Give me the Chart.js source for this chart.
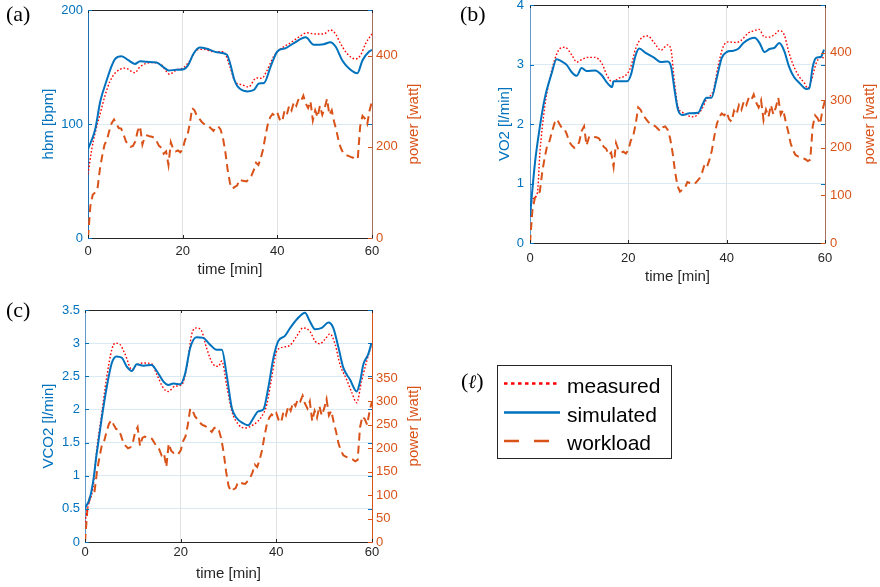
<!DOCTYPE html>
<html>
<head>
<meta charset="utf-8">
<script src="https://cdn.jsdelivr.net/npm/chart.js@4.4.1/dist/chart.umd.min.js"></script>
<style>
html,body{margin:0;padding:0;background:#fff;width:880px;height:587px;overflow:hidden;position:relative;}
canvas.cv{position:absolute;}
#overlay{position:absolute;left:0;top:0;width:880px;height:587px;pointer-events:none;}
</style>
</head>
<body>
<canvas id="cA" class="cv"></canvas>
<canvas id="cB" class="cv"></canvas>
<canvas id="cC" class="cv"></canvas>
<svg id="overlay" width="880" height="587" xmlns="http://www.w3.org/2000/svg">
  <g font-family="'Liberation Serif','Times New Roman',serif" font-size="22" fill="#000">
    <text x="6" y="21">(a)</text>
    <text x="460" y="21">(b)</text>
    <text x="6" y="317">(c)</text>
    <text x="461" y="388">(<tspan font-style="italic" font-family="'DejaVu Serif',serif" font-size="19">ℓ</tspan>)</text>
  </g>
  <rect x="497.5" y="365.5" width="174" height="93" fill="#fff" stroke="#262626" stroke-width="1"/>
  <line x1="504" y1="383.5" x2="560" y2="383.5" stroke="#FF0000" stroke-width="2.5" stroke-dasharray="3.5,3.5"/>
  <line x1="504" y1="412.5" x2="560" y2="412.5" stroke="#0072BD" stroke-width="2.5"/>
  <line x1="504" y1="441" x2="560" y2="441" stroke="#D95319" stroke-width="2.5" stroke-dasharray="15,15"/>
  <g font-family="'Liberation Sans',Arial,sans-serif" font-size="21" fill="#000">
    <text x="567" y="393">measured</text>
    <text x="567" y="421.5">simulated</text>
    <text x="567" y="450">workload</text>
  </g>
</svg>
<script>
// ---------------- data (time in min) ----------------
const timeTicks = [0, 20, 40, 60];

// workload [min, watt] (same in all panels)
const workload = [
 [0,0],[0.5,70],[1,95],[1.5,100],[2,108],[2.5,150],[3,180],[3.5,205],[4,215],[4.5,235],
 [5,252],[5.5,260],[6,250],[6.5,241],[7,240],[7.5,228],[8,212],[8.5,205],[9,200],[9.5,202],
 [10,212],[10.5,235],[11,245],[11.5,205],[12,222],[12.5,225],[13,223],[13.5,222],[14,220],[14.5,212],
 [15,202],[15.5,198],[16,185],[16.5,190],[17,160],[17.5,210],[18,195],[18.5,190],[19,192],[19.5,188],
 [20,195],[20.5,215],[21,225],[21.5,250],[22,285],[22.5,280],[23,268],[23.5,262],[24,255],[24.5,250],
 [25,248],[25.5,245],[26,240],[26.5,235],[27,243],[27.5,245],[28,238],[28.5,220],[29,190],[29.5,150],
 [30,120],[30.5,108],[31,112],[31.5,115],[32,128],[32.5,126],[33,125],[33.5,124],[34,130],[34.5,136],
 [35,148],[35.5,165],[36,160],[36.5,175],[37,195],[37.5,225],[38,250],[38.5,265],[39,272],[39.5,268],
 [40,275],[40.5,260],[41,255],[41.5,278],[42,270],[42.5,290],[43,280],[43.5,298],[44,290],[44.5,305],
 [45,300],[45.5,312],[46,295],[46.5,285],[47,300],[47.5,258],[48,280],[48.5,265],[49,290],[49.5,270],
 [50,285],[50.5,305],[51,270],[51.5,280],[52,255],[52.5,235],[53,210],[53.5,195],[54,185],[54.5,182],
 [55,180],[55.5,178],[56,176],[56.5,172],[57,175],[57.5,245],[58,268],[58.5,262],[59,250],[59.5,280],[60,300]
];

// (a) heart beat [min, bpm]
const hbmSimulated = [
 [0,78],[1.5,95],[2.6,120],[4,139],[5,151],[5.7,157],[7.1,159.5],[8.5,156],[9.9,152.7],[11,155],[12.4,154.5],
 [14.5,154],[15.9,150],[17,147],[18.7,147.5],[20.2,148],[21.2,152],[22.2,161],[23.6,167],[25.1,166],
 [27.2,163],[29.3,161],[30.1,152],[30.9,139],[31.6,133],[33.7,128.6],[35.1,130],[36.1,135.5],[37.2,136],
 [38.6,150.5],[40,163.6],[41.8,166.6],[43.5,171],[46,176],[47.7,169.5],[49.8,170],[51.2,171.8],[52.3,168],
 [53.7,156],[55.1,149],[56.9,144.6],[58,156],[59.4,163.6],[60,165]
];
const hbmMeasured = [
 [0,56],[0.8,78],[1.5,92],[2.5,108],[3.6,125],[4.6,137],[5.7,144.5],[7.8,149],[9.9,145],[11,150.3],
 [13.4,153.8],[15.5,152],[16.3,147.5],[17.2,143.7],[18.7,147.5],[20.2,149.5],[21.6,156],[23,165],[24.4,165.5],
 [26.5,163.5],[28.6,163.5],[30,150],[31.1,137],[32.5,134.5],[33.9,132.5],[35.6,140.5],[36.7,140],[37.7,146],
 [39.2,159],[40.6,165.5],[42.7,171],[44.8,177],[46.2,180],[48,179],[49.8,179],[51.2,182.5],[52.3,179],
 [53.3,171],[54.7,162],[56.5,157],[57.6,160.5],[58.7,171],[60,179]
];

// (b) VO2 [min, l/min]
const vo2Simulated = [
 [0,0.45],[1,1.34],[2,1.95],[3,2.43],[4.4,2.85],[5.4,3.09],[6.3,3.06],[7.5,2.99],[8.5,2.87],
 [9.5,2.81],[10.5,2.94],[11.5,2.89],[13.2,2.9],[14.6,2.82],[15.7,2.69],[16.7,2.62],[17,2.72],[18.4,2.72],
 [19.8,2.72],[20.5,2.82],[21.5,3.16],[22.2,3.27],[23.6,3.19],[25.3,3.11],[26.6,3.04],[28,3.05],[28.7,2.96],
 [29.4,2.57],[30.1,2.24],[31.1,2.15],[32.4,2.18],[34.2,2.19],[35.2,2.35],[35.9,2.44],[36.9,2.44],[37.9,2.74],
 [39,3.11],[40,3.21],[41.3,3.23],[42.3,3.26],[43.4,3.36],[44.7,3.43],[45.7,3.45],[46.7,3.36],[47.7,3.21],
 [48.7,3.26],[49.7,3.28],[50.7,3.36],[51.7,3.23],[52.7,2.96],[53.7,2.79],[54.8,2.69],[56.2,2.59],[56.8,2.6],
 [57.5,2.96],[58.2,3.11],[59.2,3.13],[59.8,3.25]
];
const vo2Measured = [
 [0,0.44],[0.4,0.72],[1.5,0.84],[2,1.5],[3,2.29],[4,2.75],[5.1,3.1],[6.1,3.27],[7.1,3.29],[8.5,3.16],
 [9.5,3.04],[10.5,3.08],[11.8,3.12],[13.2,3.12],[14.6,3.02],[15.7,2.81],[16.7,2.71],[18.1,2.77],[19.5,2.82],
 [20.5,2.96],[21.5,3.27],[22.9,3.46],[23.9,3.48],[25.3,3.36],[26.6,3.24],[28,3.33],[28.7,3.24],[29.4,2.69],
 [30.1,2.29],[31.1,2.19],[33.2,2.12],[34.8,2.23],[35.9,2.41],[37.3,2.57],[38.3,2.99],[39.3,3.3],[40.3,3.38],
 [42,3.37],[43,3.41],[44.4,3.53],[45.7,3.57],[46.6,3.59],[47.7,3.46],[48.7,3.46],[50.1,3.53],[50.7,3.57],
 [51.7,3.5],[52.7,3.19],[53.7,2.96],[54.8,2.79],[55.8,2.69],[56.5,2.6],[57.2,2.72],[58.2,3.02],[59.2,3.13],[59.8,3.1]
];

// (c) VCO2 [min, l/min]
const vco2Simulated = [
 [0,0.51],[1,0.66],[1.7,0.91],[2.4,1.31],[3.5,1.87],[4.5,2.32],[5.6,2.7],[6.6,2.8],[7.7,2.78],[8.7,2.65],
 [9.8,2.58],[10.8,2.68],[12.2,2.66],[13.9,2.67],[15,2.58],[16.4,2.42],[17.4,2.37],[18.5,2.39],[19.9,2.38],
 [20.9,2.53],[22,2.93],[23.3,3.09],[24.7,3.08],[26.1,2.98],[27.5,2.9],[28.6,2.9],[29.6,2.53],[30.7,2.02],
 [31.7,1.87],[33.1,1.79],[34.1,1.76],[35.2,1.87],[36.2,1.97],[37.3,2.0],[38.3,2.32],[39.4,2.78],[40.4,3.03],
 [41.8,3.11],[42.9,3.23],[44.3,3.36],[46,3.46],[47,3.33],[48.1,3.21],[49.5,3.23],[50.9,3.31],[51.9,3.23],
 [53,2.93],[54,2.63],[55.4,2.45],[56.8,2.27],[57.5,2.42],[58.2,2.68],[59.2,2.83],[59.9,3.0]
];
const vco2Measured = [
 [0,0.3],[0.7,0.56],[1.7,0.83],[2.4,1.36],[3.5,1.94],[4.5,2.47],[5.6,2.9],[6.3,3.0],[7.3,2.98],[8.4,2.83],
 [9.8,2.6],[10.8,2.67],[12.2,2.7],[13.9,2.69],[15,2.53],[16.4,2.32],[17.4,2.27],[18.8,2.35],[20.2,2.37],
 [21.3,2.65],[22.3,3.13],[23.3,3.23],[24.4,3.18],[25.4,2.93],[26.8,2.68],[27.9,2.65],[28.6,2.73],[29.6,2.37],
 [30.7,1.97],[32.1,1.77],[33.4,1.72],[35.2,1.77],[36.9,1.89],[38,2.07],[39,2.47],[40.1,2.88],[41.5,2.94],
 [42.9,2.97],[44.3,3.11],[45.6,3.23],[47,3.18],[48.1,3.03],[49.1,2.99],[50.2,3.06],[51.2,3.14],[52.3,2.98],
 [53.3,2.68],[54.7,2.45],[55.7,2.27],[56.8,2.1],[57.8,2.42],[58.9,2.73],[59.9,2.98]
];

// axis tick values
const hbmTicks = [0, 100, 200];
const vo2Ticks = [0, 1, 2, 3, 4];
const vco2Ticks = [0, 0.5, 1, 1.5, 2, 2.5, 3, 3.5];
const powerTicksA = [0, 200, 400];
const powerTicksB = [0, 100, 200, 300, 400];
const powerTicksC = [0, 50, 100, 150, 200, 250, 300, 350];

// ---------------- drawing ----------------
const BLUE = '#0072BD', ORANGE = '#D95319', RED = '#FF0000', DARK = '#262626';
const FONT = '"Liberation Sans", Arial, sans-serif';
Chart.defaults.font.family = FONT;
Chart.defaults.font.size = 13;

const toXY = arr => arr.map(p => ({x: p[0], y: p[1]}));
const plainNum = v => String(v);

function makePanel(id, g, d) {
  const TITLE = 15, half = TITLE * 1.2 / 2;
  const padL = 2, padR = 2, padT = 20, padB = 2, rightW = 60;
  const canvasLeft = g.leftTitleX - half - padL;
  const canvasTop = g.T - padT;
  const leftW = g.L - (g.leftTitleX - half);
  const xH = g.xTitleY + half - g.B;
  const width = Math.round(g.R + rightW + padR - canvasLeft);
  const height = Math.round(g.xTitleY + half + padB - canvasTop);
  const cv = document.getElementById(id);
  cv.width = width; cv.height = height;
  cv.style.left = canvasLeft + 'px'; cv.style.top = canvasTop + 'px';
  cv.style.width = width + 'px'; cv.style.height = height + 'px';

  const extras = {
    id: 'extras_' + id,
    afterDraw(chart) {
      const {ctx, chartArea: a, scales} = chart;
      ctx.save();
      ctx.lineWidth = 1;
      ctx.strokeStyle = DARK;
      ctx.beginPath(); ctx.moveTo(a.left, Math.round(a.top) + 0.5); ctx.lineTo(a.right, Math.round(a.top) + 0.5); ctx.stroke();
      const TL = 3;
      scales.x.ticks.forEach(t => {
        const px = Math.round(scales.x.getPixelForValue(t.value)) + 0.5;
        ctx.beginPath(); ctx.moveTo(px, a.bottom); ctx.lineTo(px, a.bottom - TL); ctx.stroke();
        ctx.beginPath(); ctx.moveTo(px, a.top); ctx.lineTo(px, a.top + TL); ctx.stroke();
      });
      ctx.strokeStyle = BLUE;
      scales.yL.ticks.forEach(t => {
        const py = Math.round(scales.yL.getPixelForValue(t.value)) + 0.5;
        ctx.beginPath(); ctx.moveTo(a.left, py); ctx.lineTo(a.left + TL + 1, py); ctx.stroke();
        ctx.beginPath(); ctx.moveTo(a.right, py); ctx.lineTo(a.right - TL - 1, py); ctx.stroke();
      });
      ctx.strokeStyle = ORANGE;
      scales.yR.ticks.forEach(t => {
        const py = Math.round(scales.yR.getPixelForValue(t.value)) + 0.5;
        ctx.beginPath(); ctx.moveTo(a.right, py); ctx.lineTo(a.right - TL - 1, py); ctx.stroke();
      });
      ctx.fillStyle = ORANGE;
      ctx.font = TITLE + 'px ' + FONT;
      ctx.textAlign = 'center'; ctx.textBaseline = 'middle';
      ctx.translate(g.rightTitleX - canvasLeft, (a.top + a.bottom) / 2);
      ctx.rotate(-Math.PI / 2);
      ctx.fillText('power [watt]', 0, 0);
      ctx.restore();
    }
  };

  return new Chart(cv, {
    type: 'line',
    data: {
      datasets: [
        {label: 'simulated', data: toXY(d.sim), yAxisID: 'yL', borderColor: BLUE, borderWidth: 2,
         pointRadius: 0, cubicInterpolationMode: 'monotone', order: 1},
        {label: 'measured', data: toXY(d.meas), yAxisID: 'yL', borderColor: RED, borderWidth: 1.4,
         borderDash: [1.6, 2], pointRadius: 0, cubicInterpolationMode: 'monotone', order: 2},
        {label: 'workload', data: toXY(workload), yAxisID: 'yR', borderColor: ORANGE, borderWidth: 2,
         borderDash: [8, 5], pointRadius: 0, tension: 0, order: 3}
      ]
    },
    options: {
      responsive: false, animation: false, devicePixelRatio: 1,
      layout: {padding: {left: padL, right: padR, top: padT, bottom: padB}},
      plugins: {legend: {display: false}, tooltip: {enabled: false}},
      scales: {
        x: {
          type: 'linear', min: 0, max: 60,
          afterBuildTicks: s => { s.ticks = timeTicks.map(v => ({value: v})); },
          ticks: {color: DARK, padding: g.xPad, maxRotation: 0, callback: plainNum},
          grid: {color: '#E2E2E2', drawTicks: false},
          border: {color: DARK, width: 1},
          title: {display: true, text: 'time [min]', color: DARK, font: {size: TITLE}, padding: 0},
          afterFit: s => { s.height = xH; }
        },
        yL: {
          type: 'linear', position: 'left', min: d.lMin, max: d.lMax,
          afterBuildTicks: s => { s.ticks = d.lTicks.map(v => ({value: v})); },
          ticks: {color: BLUE, padding: g.lPad, callback: plainNum},
          grid: {color: '#D9EAF5', drawTicks: false},
          border: {color: g.leftAxisColor, width: 1},
          title: {display: true, text: d.lTitle, color: BLUE, font: {size: TITLE}, padding: 0},
          afterFit: s => { s.width = leftW; }
        },
        yR: {
          type: 'linear', position: 'right', min: 0, max: d.rMax,
          afterBuildTicks: s => { s.ticks = d.rTicks.map(v => ({value: v})); },
          ticks: {color: ORANGE, padding: g.rPad, callback: plainNum},
          grid: {display: false, drawTicks: false},
          border: {display: true, color: g.rightAxisColor, width: 1},
          afterFit: s => { s.width = rightW; }
        }
      }
    },
    plugins: [extras]
  });
}

makePanel('cA',
  {L: 88, R: 372, T: 10, B: 238, leftTitleX: 49, rightTitleX: 414, xTitleY: 270,
   xPad: 6, lPad: 5, rPad: 4, leftAxisColor: '#1F6FB5', rightAxisColor: '#A8705C'},
  {sim: hbmSimulated, meas: hbmMeasured, lMin: 0, lMax: 200, lTicks: hbmTicks, lTitle: 'hbm [bpm]',
   rMax: 500, rTicks: powerTicksA});

makePanel('cB',
  {L: 530, R: 825, T: 5, B: 243, leftTitleX: 505, rightTitleX: 870, xTitleY: 277,
   xPad: 8, lPad: 6, rPad: 5, leftAxisColor: '#5E9AD0', rightAxisColor: '#A8705C'},
  {sim: vo2Simulated, meas: vo2Measured, lMin: 0, lMax: 4, lTicks: vo2Ticks, lTitle: 'VO2 [l/min]',
   rMax: 500, rTicks: powerTicksB});

makePanel('cC',
  {L: 85, R: 372, T: 310, B: 542, leftTitleX: 49, rightTitleX: 414, xTitleY: 574,
   xPad: 3, lPad: 5, rPad: 4, leftAxisColor: '#5E9AD0', rightAxisColor: ORANGE},
  {sim: vco2Simulated, meas: vco2Measured, lMin: 0, lMax: 3.5, lTicks: vco2Ticks, lTitle: 'VCO2 [l/min]',
   rMax: 495, rTicks: powerTicksC});
</script>
</body>
</html>
